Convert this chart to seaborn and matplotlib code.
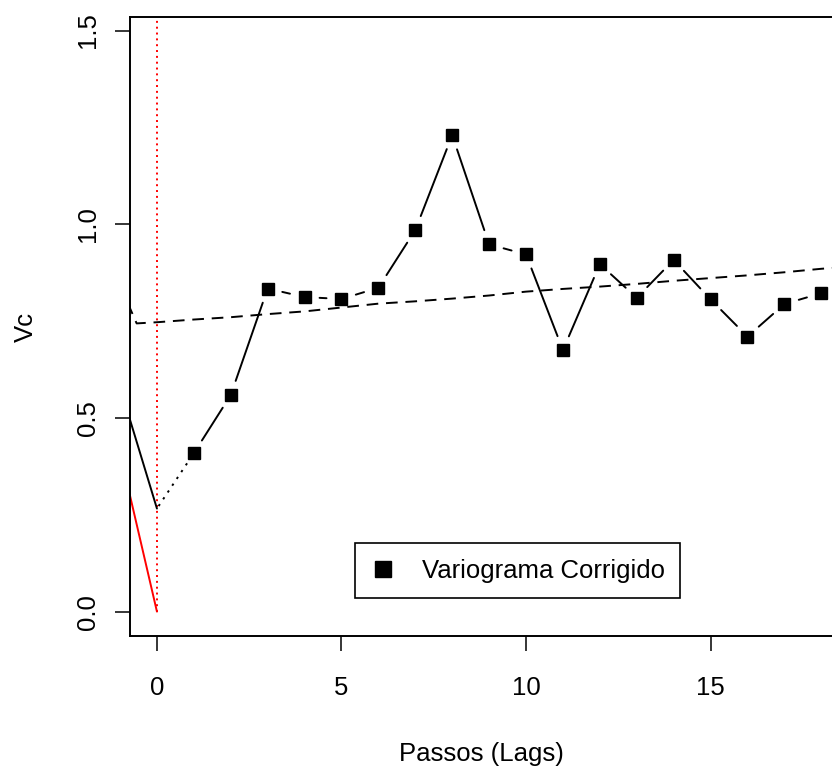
import numpy as np
import matplotlib
matplotlib.use("Agg")
import matplotlib.pyplot as plt
import seaborn as sns

# data
lags = np.arange(1, 19)
vc = [0.409, 0.559, 0.834, 0.812, 0.807, 0.836, 0.985, 1.230, 0.948,
      0.922, 0.675, 0.897, 0.810, 0.908, 0.806, 0.710, 0.794, 0.822]

lead_x = [-1, 0]
lead_y = [0.58, 0.266]

red_x = [-1, 0]
red_y = [0.41, 0.0]

trend_x = [-1, -0.55, 0, 1, 2, 3, 4, 5, 6, 7, 8, 9, 10, 11, 12, 13, 14, 15, 16, 17, 18, 19]
trend_y = [0.842, 0.744, 0.747, 0.754, 0.760, 0.768, 0.775, 0.785, 0.795, 0.801, 0.808,
           0.816, 0.826, 0.833, 0.839, 0.846, 0.854, 0.861, 0.868, 0.876, 0.885, 0.892]

legend_label = "Variograma Corrigido"

sns.set_theme(style="white")
plt.rcParams["font.family"] = ["Liberation Sans", "DejaVu Sans"]
plt.rcParams.update({"text.color": "black", "axes.labelcolor": "black",
                     "xtick.color": "black", "ytick.color": "black"})
FS = 18.5

fig = plt.figure(figsize=(8.32, 7.66), dpi=100)
ax = fig.add_axes([130 / 832, 130 / 766, 702 / 832, 619 / 766])
ax.set_xlim(-0.73, 18.29)
ax.set_ylim(-0.063, 1.535)

LW = 1.4


def gapped(ax, x, y, gap_start, gap_end, **kw):
    # R type="b": segments stop short of the points
    pts = ax.transData.transform(np.column_stack([x, y]))
    inv = ax.transData.inverted()
    for p, q in zip(pts[:-1], pts[1:]):
        d = q - p
        L = np.hypot(*d)
        if L <= gap_start + gap_end:
            continue
        u = d / L
        seg = inv.transform([p + u * gap_start, q - u * gap_end])
        ax.plot(seg[:, 0], seg[:, 1], **kw)


# dashed trend line
sns.lineplot(x=trend_x, y=trend_y, ax=ax, color="black", lw=LW,
             linestyle=(0, (6, 4)), sort=False, estimator=None)

# red model line and red dotted vertical at lag 0
sns.lineplot(x=red_x, y=red_y, ax=ax, color="red", lw=LW, sort=False, estimator=None)
ax.vlines(0, 0, 1.6, colors="red", linestyles=(0, (1, 2)), lw=LW)

# black lead segment, dotted link to first lag
sns.lineplot(x=lead_x, y=lead_y, ax=ax, color="black", lw=LW, sort=False, estimator=None)
gapped(ax, [lead_x[-1], lags[0]], [lead_y[-1], vc[0]], 3, 12,
       color="black", lw=LW, linestyle=(0, (1.2, 3)))

# main series
gapped(ax, lags, vc, 15, 15, color="black", lw=LW)
ax.plot(lags, vc, linestyle="none", marker="s", ms=9, color="black",
        label=legend_label)

ax.set_xticks([0, 5, 10, 15])
ax.set_yticks([0.0, 0.5, 1.0, 1.5])
ax.set_yticklabels(["0.0", "0.5", "1.0", "1.5"], rotation=90, va="center")
ax.tick_params(axis="both", length=10.8, width=1.1, labelsize=FS, direction="out")
ax.tick_params(axis="x", bottom=True, pad=18)
ax.tick_params(axis="y", left=True, pad=11)

for s in ["left", "bottom", "top"]:
    ax.spines[s].set_color("black")
    ax.spines[s].set_linewidth(1.4)
ax.spines["right"].set_visible(False)

ax.set_xlabel("Passos (Lags)", fontsize=FS, labelpad=30)
ax.set_ylabel("Vc", fontsize=FS, labelpad=27)

leg = ax.legend(loc="lower left", bbox_to_anchor=(0.3205, 0.0614),
                borderaxespad=0, fontsize=FS, frameon=True, fancybox=False,
                framealpha=1, handlelength=1.0, handletextpad=1.0,
                borderpad=0.6, markerscale=1.3)
leg.get_frame().set_edgecolor("black")
leg.get_frame().set_linewidth(1.2)

fig.savefig("out.png", dpi=100)
